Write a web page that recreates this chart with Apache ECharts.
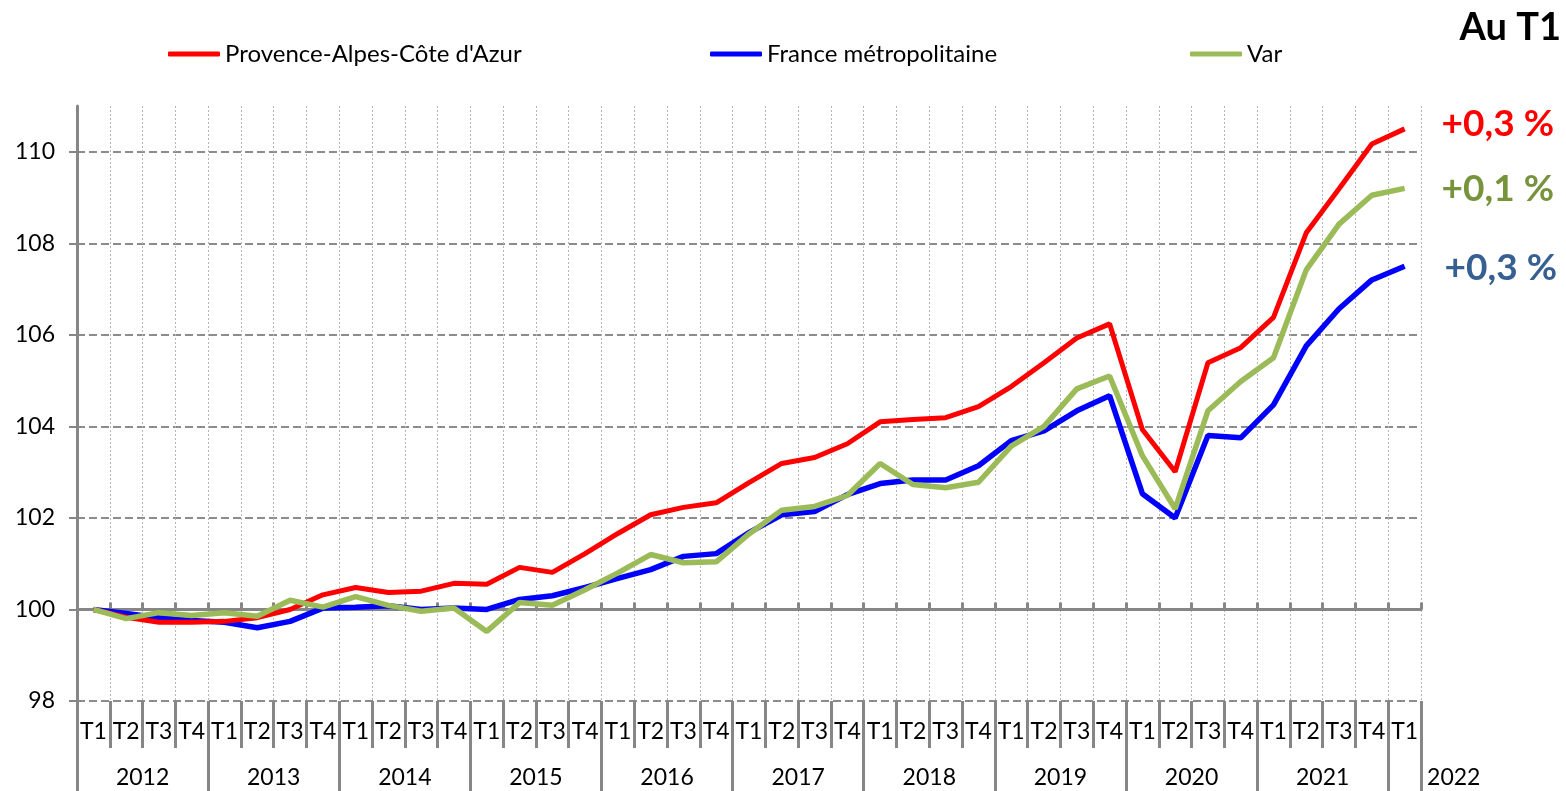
<!DOCTYPE html>
<html>
<head>
<meta charset="utf-8">
<script src="https://cdn.jsdelivr.net/npm/echarts@6/dist/echarts.min.js"></script>
<style>
  html, body { margin: 0; padding: 0; background: #fff; }
  #chart { width: 1566px; height: 791px; }
</style>
</head>
<body>
<div id="chart"></div>
<script>
// quarters 2012 T1 .. 2022 T1
const quarters = [
  "T1", "T2", "T3", "T4", "T1", "T2", "T3", "T4", "T1", "T2", "T3", "T4",
  "T1", "T2", "T3", "T4", "T1", "T2", "T3", "T4", "T1", "T2", "T3", "T4",
  "T1", "T2", "T3", "T4", "T1", "T2", "T3", "T4", "T1", "T2", "T3", "T4",
  "T1", "T2", "T3", "T4", "T1"
];
const years = ["2012", "2013", "2014", "2015", "2016", "2017", "2018", "2019", "2020", "2021", "2022"];

const paca = [
  100.0, 99.83, 99.72, 99.72, 99.74, 99.82, 100.0, 100.32,
  100.48, 100.37, 100.4, 100.57, 100.55, 100.92, 100.81, 101.22,
  101.66, 102.07, 102.23, 102.33, 102.77, 103.19, 103.32, 103.62,
  104.1, 104.15, 104.19, 104.43, 104.87, 105.39, 105.93, 106.24,
  103.93, 103.01, 105.39, 105.72, 106.38, 108.23, 109.19, 110.17,
  110.5
];
const france = [
  100.0, 99.91, 99.82, 99.76, 99.72, 99.6, 99.74, 100.03,
  100.05, 100.08, 100.0, 100.03, 100.0, 100.22, 100.3, 100.48,
  100.68, 100.87, 101.16, 101.22, 101.68, 102.07, 102.14, 102.51,
  102.75, 102.83, 102.83, 103.14, 103.69, 103.9, 104.34, 104.67,
  102.53, 102.0, 103.8, 103.75, 104.47, 105.76, 106.57, 107.2,
  107.5
];
const varDep = [
  100.0, 99.8, 99.93, 99.87, 99.93, 99.85, 100.2, 100.05,
  100.28, 100.09, 99.96, 100.03, 99.52, 100.15, 100.09, 100.43,
  100.8, 101.2, 101.02, 101.04, 101.65, 102.17, 102.25, 102.49,
  103.19, 102.73, 102.66, 102.78, 103.57, 104.0, 104.82, 105.1,
  103.36, 102.2, 104.34, 104.98, 105.5, 107.42, 108.42, 109.05,
  109.2
];
const evolutions = { paca: "+0,3 %", france: "+0,3 %", varDep: "+0,1 %" };

const FONT = 'Lato, "Open Sans", sans-serif';
const AXIS_GREY = "#868686";

// plot area
const LEFT = 77, TOP = 106, PLOT_W = 1344, PLOT_H = 595;

// year row: one slot per quarter boundary, year name in the middle of each 4-quarter block
const yearSlots = [];
for (let i = 0; i <= 44; i++) {
  yearSlots.push(i % 4 === 2 ? years[(i - 2) / 4] : "");
}

const myChart = echarts.init(document.getElementById("chart"));

function legendFor(name, left) {
  return {
    data: [name],
    left: left,
    top: 37,
    icon: "roundRect",
    itemWidth: 52,
    itemHeight: 5,
    textStyle: { fontFamily: FONT, fontSize: 24, color: "#000" },
    selectedMode: false
  };
}

function endLabel(text, color, distance, dy) {
  return {
    show: true,
    formatter: text,
    fontFamily: FONT,
    fontSize: 37,
    fontWeight: "bold",
    color: color,
    distance: distance,
    offset: [0, dy]
  };
}

const option = {
  animation: false,
  backgroundColor: "#fff",
  legend: [
    legendFor("Provence-Alpes-Côte d'Azur", 163),
    legendFor("France métropolitaine", 705),
    legendFor("Var", 1185)
  ],
  graphic: [
    {
      type: "text",
      right: 5,
      top: 9,
      style: { text: "Au T1", font: "bold 38px " + FONT, fill: "#000" }
    }
  ],
  grid: [
    { left: LEFT, top: TOP, width: PLOT_W, height: PLOT_H },
    // grid ending at the 100 level, for the horizontal axis line
    { left: LEFT, top: TOP, width: PLOT_W, height: PLOT_H * 11 / 13 },
    // grid for the year row (last year drawn as a full block, like the source)
    { left: LEFT, top: TOP, width: PLOT_W * 44 / 41, height: PLOT_H }
  ],
  xAxis: [
    {
      gridIndex: 0,
      type: "category",
      data: quarters,
      boundaryGap: true,
      axisLine: { show: false },
      axisTick: { show: true, interval: 0, length: 47, lineStyle: { color: AXIS_GREY, width: 3 } },
      axisLabel: { interval: 0, margin: 19, fontFamily: FONT, fontSize: 23, color: "#000" },
      splitLine: { show: true, interval: 0, lineStyle: { color: "#b5b5b5", width: 1, type: [2, 2] } }
    },
    {
      gridIndex: 1,
      type: "category",
      data: quarters,
      boundaryGap: true,
      axisLine: { show: true, lineStyle: { color: AXIS_GREY, width: 3 } },
      axisTick: { show: true, inside: true, interval: 0, length: 7, lineStyle: { color: AXIS_GREY, width: 3 } },
      axisLabel: { show: false },
      splitLine: { show: false }
    },
    {
      gridIndex: 2,
      type: "category",
      data: yearSlots,
      boundaryGap: false,
      position: "bottom",
      offset: 47,
      axisLine: { show: false },
      axisTick: { show: false },
      axisLabel: {
        interval: (i) => i % 4 === 2,
        margin: 18,
        fontFamily: FONT,
        fontSize: 23,
        color: "#000"
      },
      splitLine: { show: false }
    },
    {
      // long separators between years, through both label rows
      gridIndex: 0,
      type: "category",
      data: quarters,
      boundaryGap: true,
      position: "bottom",
      axisLine: { show: false },
      axisTick: {
        show: true,
        interval: (i) => i % 4 === 0,
        length: 91,
        lineStyle: { color: AXIS_GREY, width: 3 }
      },
      axisLabel: { show: false },
      splitLine: { show: false }
    }
  ],
  yAxis: [
    {
      gridIndex: 0,
      type: "value",
      min: 98,
      max: 111,
      interval: 2,
      axisLine: { show: true, lineStyle: { color: AXIS_GREY, width: 3 } },
      axisTick: { show: true, length: 8, lineStyle: { color: AXIS_GREY, width: 2 } },
      axisLabel: { showMaxLabel: false, margin: 22, fontFamily: FONT, fontSize: 23, color: "#000" },
      splitLine: {
        show: true,
        showMaxLine: false,
        lineStyle: { color: "#8c8c8c", width: 2, type: [8, 4] }
      }
    },
    { gridIndex: 1, type: "value", min: 98, max: 100, show: false },
    { gridIndex: 2, type: "value", min: 0, max: 1, show: false }
  ],
  series: [
    {
      name: "France métropolitaine",
      type: "line",
      data: france,
      symbol: "none",
      lineStyle: { color: "#0000ff", width: 5.5 },
      itemStyle: { color: "#0000ff" },
      endLabel: endLabel(evolutions.france, "#376092", 40, 2)
    },
    {
      name: "Provence-Alpes-Côte d'Azur",
      type: "line",
      data: paca,
      symbol: "none",
      lineStyle: { color: "#ff0000", width: 5 },
      itemStyle: { color: "#ff0000" },
      endLabel: endLabel(evolutions.paca, "#ff0000", 37, -5)
    },
    {
      name: "Var",
      type: "line",
      data: varDep,
      symbol: "none",
      lineStyle: { color: "#9bbb59", width: 5.5 },
      itemStyle: { color: "#9bbb59" },
      endLabel: endLabel(evolutions.varDep, "#77933c", 37, 1)
    }
  ]
};

myChart.setOption(option);
</script>
</body>
</html>
